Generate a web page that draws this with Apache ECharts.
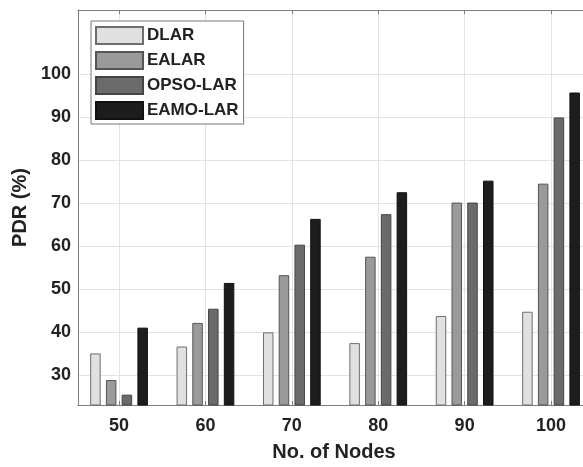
<!DOCTYPE html>
<html>
<head>
<meta charset="utf-8">
<script src="https://cdn.jsdelivr.net/npm/echarts@6/dist/echarts.min.js"></script>
<style>
  html, body { margin: 0; padding: 0; background: #fff; }
  #main { width: 583px; height: 467px; }
</style>
</head>
<body>
<div id="main"></div>
<script>
// x positions (No. of Nodes)
var nodes = [50, 60, 70, 80, 90, 100];
var seriesNames = ['DLAR', 'EALAR', 'OPSO-LAR', 'EAMO-LAR'];
// PDR (%)
var dlar    = [35.1, 36.7, 40.0, 37.5, 43.8, 44.8];
var ealar   = [28.9, 42.2, 53.3, 57.6, 70.2, 74.6];
var opsoLar = [25.5, 45.5, 60.4, 67.5, 70.2, 90.0];
var eamoLar = [41.1, 51.5, 66.4, 72.6, 75.3, 95.8];
var yTickLabels = [30, 40, 50, 60, 70, 80, 90, 100];

var fills   = ['#e0e0e0', '#9a9a9a', '#6b6b6b', '#1d1d1d'];
var borders = ['#6e6e6e', '#555555', '#444444', '#111111'];
var allValues = [dlar, ealar, opsoLar, eamoLar];

var font = 'Liberation Sans, Arial, sans-serif';
var textColor = '#222';
var gridColor = '#e3e3e3';
var axisColor = '#7d7d7d';

function pairs(vals) {
  return nodes.map(function (n, i) { return [n, vals[i]]; });
}

var series = seriesNames.map(function (name, k) {
  return {
    name: name,
    type: 'bar',
    barWidth: 10.5,
    barGap: '50%',
    itemStyle: { color: fills[k], borderColor: borders[k], borderWidth: 1 },
    data: pairs(allValues[k])
  };
});

// y split lines: ticks are [min, 30..110, max]; only 30..100 are drawn
var yLineColors = ['transparent'];
yTickLabels.forEach(function () { yLineColors.push(gridColor); });
yLineColors.push('transparent', 'transparent');

// x split lines: ticks are [min, 50..100, max]; the edge at max is hidden
var xLineColors = [gridColor];
nodes.forEach(function () { xLineColors.push(gridColor); });
xLineColors.push('transparent');

var chart = echarts.init(document.getElementById('main'));
chart.setOption({
  animation: false,
  grid: { left: 78, right: 0, top: 10, bottom: 59, containLabel: false },
  legend: {
    orient: 'vertical',
    left: 91,
    top: 21,
    padding: [5, 5, 4, 4],
    itemWidth: 47,
    itemHeight: 17,
    itemGap: 6,
    backgroundColor: '#fff',
    borderColor: '#777',
    borderWidth: 1,
    borderRadius: 0,
    icon: 'rect',
    textStyle: { fontFamily: font, fontWeight: 'bold', fontSize: 17, color: textColor, padding: [0, 0, 0, -1] },
    data: seriesNames
  },
  xAxis: [{
    type: 'value',
    min: 45.25,
    max: 103.7,
    name: 'No. of Nodes',
    nameLocation: 'middle',
    nameGap: 37,
    nameTextStyle: { fontFamily: font, fontWeight: 'bold', fontSize: 20, color: textColor, padding: [0, 0, 0, 7] },
    axisLine: { show: true, lineStyle: { color: axisColor, width: 1 } },
    axisTick: { show: true, inside: true, length: 4, lineStyle: { color: axisColor } },
    axisLabel: {
      margin: 12,
      fontFamily: font, fontWeight: 'bold', fontSize: 18, color: textColor,
      showMinLabel: false, showMaxLabel: false,
      formatter: function (v) { return nodes.indexOf(v) >= 0 ? String(v) : ''; }
    },
    splitLine: { show: true, lineStyle: { color: xLineColors, width: 1 } }
  }, {
    type: 'value',
    position: 'top',
    min: 45.25,
    max: 103.7,
    axisLine: { show: true, lineStyle: { color: axisColor, width: 1 } },
    axisTick: { show: true, inside: true, length: 4, lineStyle: { color: axisColor } },
    axisLabel: { show: false },
    splitLine: { show: false }
  }],
  yAxis: {
    type: 'value',
    min: 23.1,
    max: 115,
    splitNumber: 9,
    name: 'PDR (%)',
    nameLocation: 'middle',
    nameGap: 46,
    nameTextStyle: { fontFamily: font, fontWeight: 'bold', fontSize: 20, color: textColor },
    axisLine: { show: true, lineStyle: { color: axisColor, width: 1 } },
    axisTick: { show: false },
    axisLabel: {
      margin: 7,
      fontFamily: font, fontWeight: 'bold', fontSize: 18, color: textColor,
      formatter: function (v) { return yTickLabels.indexOf(v) >= 0 ? String(v) : ''; }
    },
    splitLine: { show: true, lineStyle: { color: yLineColors, width: 1 } }
  },
  series: series
});
</script>
</body>
</html>
